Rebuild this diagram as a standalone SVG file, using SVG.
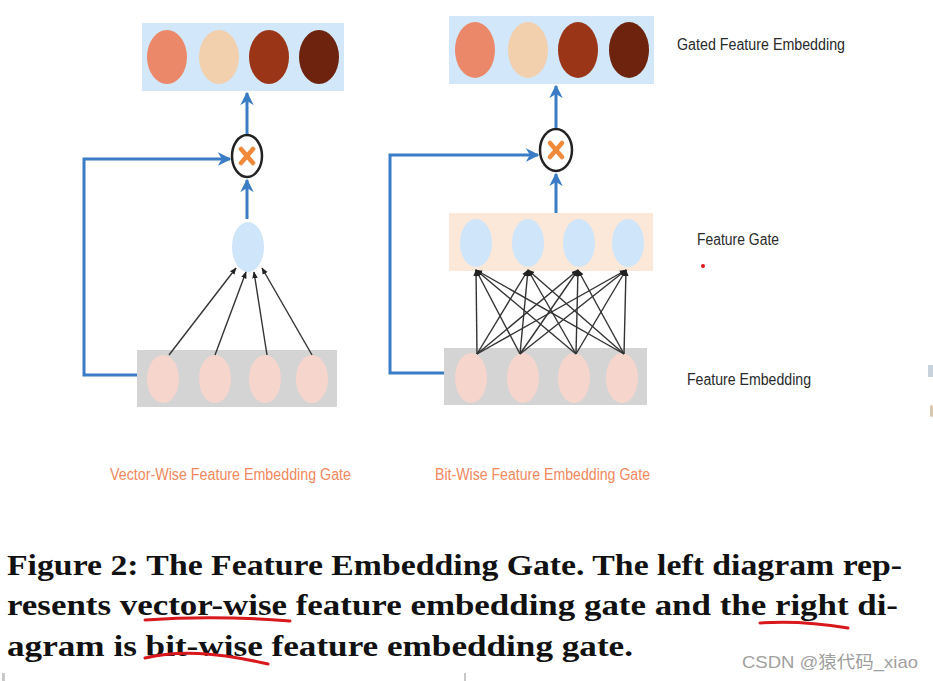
<svg xmlns="http://www.w3.org/2000/svg" width="933" height="681" viewBox="0 0 933 681">
<defs>
<style>
.lbl{font-family:"Liberation Sans",Arial,sans-serif;font-size:16px;fill:#2a2a2a}
.olbl{font-family:"Liberation Sans",Arial,sans-serif;font-size:16px;fill:#f0885c}
.cap{font-family:"Liberation Serif","Times New Roman",serif;font-weight:bold;font-size:30px;fill:#111}
.wm{font-family:"Liberation Sans",Arial,"Noto Sans CJK SC",sans-serif;font-size:17px;fill:#a0a0a0}
.blue{fill:none;stroke:#3a7dc6;stroke-width:3}
.thin{fill:none;stroke:#333;stroke-width:1.4}
.mul{fill:#fff;stroke:#222;stroke-width:2.5}
.x{stroke:#f08a3a;stroke-width:4.5;stroke-linecap:round}
.red{fill:none;stroke:#d8181c;stroke-width:3;stroke-linecap:round}
</style>
<marker id="ab" viewBox="0 0 10 10" refX="9" refY="5" markerWidth="4.5" markerHeight="4.5" orient="auto" markerUnits="strokeWidth">
<path d="M0,0 L10,5 L0,10 L3,5 Z" fill="#3a7dc6"/>
</marker>
<marker id="ak" viewBox="0 0 10 10" refX="9" refY="5" markerWidth="5" markerHeight="5" orient="auto" markerUnits="strokeWidth">
<path d="M0,1 L10,5 L0,9 Z" fill="#222"/>
</marker>
</defs>
<rect width="933" height="681" fill="#fff"/>

<!-- Left panel -->
<g id="left-gated">
<rect x="142" y="23" width="202" height="68" fill="#d2e7f9"/>
<ellipse cx="167" cy="57" rx="20" ry="27" fill="#ec886a"/>
<ellipse cx="219" cy="57" rx="20" ry="27" fill="#f2cfad"/>
<ellipse cx="269" cy="57" rx="20" ry="27" fill="#9b3517"/>
<ellipse cx="319" cy="57" rx="20" ry="27" fill="#6d230e"/>
</g>
<g id="left-mult">
<ellipse class="mul" cx="247" cy="156" rx="15" ry="21"/>
<line class="x" x1="241" y1="149" x2="253" y2="163"/>
<line class="x" x1="253" y1="149" x2="241" y2="163"/>
</g>
<g id="left-gate">
<ellipse cx="248" cy="247" rx="16" ry="25" fill="#cfe5f9"/>
</g>
<g id="left-embedding">
<rect x="137" y="350" width="200" height="57" fill="#d4d4d4"/>
<ellipse cx="163" cy="379" rx="16" ry="24" fill="#f6d5cd"/>
<ellipse cx="215" cy="379" rx="16" ry="24" fill="#f6d5cd"/>
<ellipse cx="265" cy="379" rx="16" ry="24" fill="#f6d5cd"/>
<ellipse cx="312" cy="379" rx="16" ry="24" fill="#f6d5cd"/>
</g>

<!-- Right panel -->
<g id="right-gated">
<rect x="449" y="16" width="205" height="68" fill="#d2e7f9"/>
<ellipse cx="475" cy="50" rx="20" ry="28" fill="#ec886a"/>
<ellipse cx="528" cy="50" rx="20" ry="28" fill="#f2cfad"/>
<ellipse cx="578" cy="50" rx="20" ry="28" fill="#9b3517"/>
<ellipse cx="629" cy="50" rx="20" ry="28" fill="#6d230e"/>
</g>
<g id="right-mult">
<ellipse class="mul" cx="556" cy="150" rx="16" ry="21"/>
<line class="x" x1="550" y1="143" x2="562" y2="157"/>
<line class="x" x1="562" y1="143" x2="550" y2="157"/>
</g>
<g id="right-gate">
<rect x="449" y="213" width="204" height="58" fill="#fbe8d9"/>
<ellipse cx="476" cy="243" rx="16" ry="24" fill="#cfe5f9"/>
<ellipse cx="528" cy="243" rx="16" ry="24" fill="#cfe5f9"/>
<ellipse cx="579" cy="243" rx="16" ry="24" fill="#cfe5f9"/>
<ellipse cx="628" cy="243" rx="16" ry="24" fill="#cfe5f9"/>
</g>
<g id="right-embedding">
<rect x="444" y="348" width="203" height="57" fill="#d4d4d4"/>
<ellipse cx="471" cy="378" rx="16" ry="25" fill="#f6d5cd"/>
<ellipse cx="523" cy="378" rx="16" ry="25" fill="#f6d5cd"/>
<ellipse cx="574" cy="378" rx="16" ry="25" fill="#f6d5cd"/>
<ellipse cx="622" cy="378" rx="16" ry="25" fill="#f6d5cd"/>
</g>

<g id="connectors">
<!-- left -->
<line class="blue" x1="247" y1="134" x2="247" y2="93" marker-end="url(#ab)"/>
<line class="blue" x1="247" y1="219" x2="247" y2="180" marker-end="url(#ab)"/>
<polyline class="blue" points="137,375 84,375 84,159 230,159" marker-end="url(#ab)"/>
<line class="thin" x1="169" y1="355" x2="236" y2="268" marker-end="url(#ak)"/>
<line class="thin" x1="215" y1="355" x2="246" y2="272" marker-end="url(#ak)"/>
<line class="thin" x1="267" y1="355" x2="254" y2="272" marker-end="url(#ak)"/>
<line class="thin" x1="312" y1="355" x2="262" y2="268" marker-end="url(#ak)"/>
<!-- right -->
<line class="blue" x1="556" y1="128" x2="556" y2="86" marker-end="url(#ab)"/>
<line class="blue" x1="556" y1="213" x2="556" y2="174" marker-end="url(#ab)"/>
<polyline class="blue" points="444,373 390,373 390,155 538,155" marker-end="url(#ab)"/>
<g class="thin" marker-end="url(#ak)">
<line x1="477" y1="354" x2="476" y2="270"/><line x1="477" y1="354" x2="528" y2="270"/><line x1="477" y1="354" x2="578" y2="270"/><line x1="477" y1="354" x2="626" y2="270"/>
<line x1="520" y1="354" x2="476" y2="270"/><line x1="520" y1="354" x2="528" y2="270"/><line x1="520" y1="354" x2="578" y2="270"/><line x1="520" y1="354" x2="626" y2="270"/>
<line x1="576" y1="354" x2="476" y2="270"/><line x1="576" y1="354" x2="528" y2="270"/><line x1="576" y1="354" x2="578" y2="270"/><line x1="576" y1="354" x2="626" y2="270"/>
<line x1="624" y1="354" x2="476" y2="270"/><line x1="624" y1="354" x2="528" y2="270"/><line x1="624" y1="354" x2="578" y2="270"/><line x1="624" y1="354" x2="626" y2="270"/>
</g>
</g>

<g id="labels">
<text class="lbl" x="677" y="50" textLength="168" lengthAdjust="spacingAndGlyphs">Gated Feature Embedding</text>
<text class="lbl" x="697" y="245" textLength="82" lengthAdjust="spacingAndGlyphs">Feature Gate</text>
<circle cx="703" cy="266" r="2" fill="#e0161a"/>
<text class="lbl" x="687" y="385" textLength="124" lengthAdjust="spacingAndGlyphs">Feature Embedding</text>
<text class="olbl" x="110" y="480" textLength="241" lengthAdjust="spacingAndGlyphs">Vector-Wise Feature Embedding Gate</text>
<text class="olbl" x="435" y="480" textLength="215" lengthAdjust="spacingAndGlyphs">Bit-Wise Feature Embedding Gate</text>
</g>

<g id="fragments">
<rect x="928" y="365" width="5" height="12" fill="#c8d2dc"/>
<rect x="930" y="405" width="3" height="12" rx="1.5" fill="#d8c8b0"/>
<rect x="2" y="673" width="3" height="8" fill="#c8c8c8"/>
<rect x="464" y="673" width="2" height="8" fill="#c8c8c8"/>
</g>

<g id="caption">
<text class="cap" x="7" y="575" textLength="895" lengthAdjust="spacingAndGlyphs">Figure 2: The Feature Embedding Gate. The left diagram rep-</text>
<text class="cap" x="7" y="615" textLength="891" lengthAdjust="spacingAndGlyphs">resents vector-wise feature embedding gate and the right di-</text>
<text class="cap" x="7" y="656" textLength="626" lengthAdjust="spacingAndGlyphs">agram is bit-wise feature embedding gate.</text>
<path class="red" d="M145,620 Q215,615 290,621"/>
<path class="red" d="M760,623 Q800,620 848,628"/>
<path class="red" d="M145,658 C178,650 215,652 268,664"/>
<text class="wm" x="742" y="668" textLength="176" lengthAdjust="spacingAndGlyphs">CSDN @猿代码_xiao</text>
</g>
</svg>
